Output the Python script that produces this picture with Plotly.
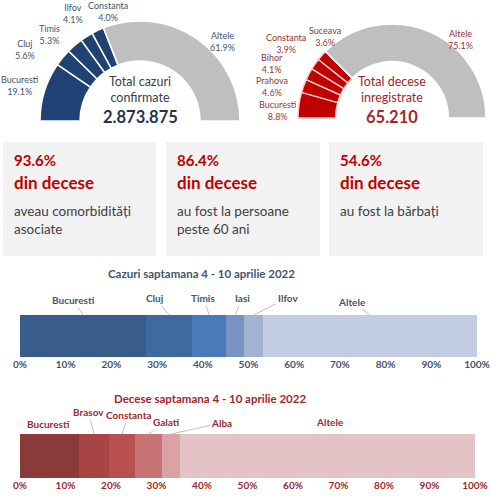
import math
import plotly.graph_objects as go

# donut data (percent of totals)
cases_regions = ["Bucuresti", "Cluj", "Timis", "Ilfov", "Constanta", "Altele"]
cases_share = [19.1, 5.6, 5.3, 4.1, 4.0, 61.9]
cases_total = "2.873.875"

deaths_regions = ["Bucuresti", "Prahova", "Bihor", "Constanta", "Suceava", "Altele"]
deaths_share = [8.8, 4.6, 4.1, 3.9, 3.6, 75.1]
deaths_total = "65.210"

# summary boxes
box_pct = ["93.6%", "86.4%", "54.6%"]
box_text = ["aveau comorbidități<br>asociate", "au fost la persoane<br>peste 60 ani", "au fost la bărbați"]

# weekly bars
week_cases_regions = ["Bucuresti", "Cluj", "Timis", "Iasi", "Ilfov", "Altele"]
week_cases_share = [27.6, 10.1, 7.4, 4.0, 4.0, 46.9]
week_deaths_regions = ["Bucuresti", "Brasov", "Constanta", "Galati", "Alba", "Altele"]
week_deaths_share = [13.0, 6.6, 5.7, 5.8, 4.1, 64.8]
pct_ticks = list(range(0, 101, 10))
pct_labels = [f"{t}%" for t in pct_ticks]

W, H = 491, 500
FONT = "Lato"
BLUE_TXT = "#44546a"
RED_TXT = "#a0282d"
RED = "#c00000"
GREY = "#bfbfbf"

cases_bar_colors = ["#385d8a", "#3f6a9f", "#4a7ab8", "#7893c2", "#a3b2d2", "#c3cde1"]
deaths_bar_colors = ["#8b3a3a", "#a84444", "#b85050", "#c97474", "#d9a2a4", "#e3c3c5"]

# label offsets (px) from the donut rim / bar top
cases_pie_off = [(-24, -6), (-38, -8), (-25, -11), (-14, -23), (10, -19), (26, 3)]
deaths_pie_off = [(-21, 5), (-32, 1), (-37, -11), (-29, -21), (3, -19), (33, 8)]
cases_off = [(-10, -15, True), (-14, -17, True), (-6, -17, True), (7, -17, True), (34, -17, True), (-18, -13, True)]
deaths_off = [(-2, -10, False), (-6, -22, True), (6, -19, True), (18, -12, True), (51, -11, True), (2, -12, False)]


def px_x(px):
    return px / W


def px_y(py):
    return 1 - py / H


fig = go.Figure()
annotations = []


def half_donut(regions, share, fill, sep, txtcol, cx, cy, r, offs):
    vals = share + [sum(share)]
    colors = [fill] * (len(share) - 1) + [GREY, "rgba(0,0,0,0)"]
    line_cols = [sep] * (len(share) - 1) + ["white", "white"]
    widths = [1.5] * len(share) + [0]
    fig.add_trace(go.Pie(
        values=vals, labels=regions + ["_"], textinfo="none",
        sort=False, direction="clockwise", rotation=270,
        hole=0.6, showlegend=False, hoverinfo="skip",
        marker=dict(colors=colors, line=dict(color=line_cols, width=widths)),
        domain=dict(x=[px_x(cx - r), px_x(cx + r)], y=[px_y(cy + r), px_y(cy - r)]),
    ))
    total = sum(share)
    cum = 0
    for name, v, (ax, ay) in zip(regions, share, offs):
        theta = math.pi * (1 - (cum + v / 2) / total)
        cum += v
        annotations.append(dict(x=px_x(cx + r * math.cos(theta)), y=px_y(cy - r * math.sin(theta)),
                                xref="paper", yref="paper",
                                text=f"{name}<br>{v:.1f}%", showarrow=True, arrowcolor="rgba(0,0,0,0)",
                                ax=ax, ay=ay, font=dict(family=FONT, size=9, color=txtcol)))


half_donut(cases_regions, cases_share, "#1f4173", "white", BLUE_TXT, 140, 121, 100, cases_pie_off)
half_donut(deaths_regions, deaths_share, RED, "#ffc7c7", "#953735", 392, 118, 94, deaths_pie_off)


def text_at(x, y, text, size, color, xanchor="center", yanchor="middle", **kw):
    annotations.append(dict(x=px_x(x), y=px_y(y), xref="paper", yref="paper", text=text,
                            xanchor=xanchor, yanchor=yanchor, showarrow=False,
                            font=dict(family=FONT, size=size, color=color), **kw))


text_at(140, 90, "Total cazuri<br>confirmate", 12.5, "#404040")
text_at(140, 117, f"<b>{cases_total}</b>", 16.5, "#1f3450")
text_at(392, 90, "Total decese<br>inregistrate", 12.5, RED_TXT)
text_at(392, 117, f"<b>{deaths_total}</b>", 16.5, RED_TXT)

shapes = []
box_x = [(3, 156), (166, 320), (329, 483)]
for (x0, x1), p, t in zip(box_x, box_pct, box_text):
    shapes.append(dict(type="rect", xref="paper", yref="paper", x0=px_x(x0), x1=px_x(x1),
                       y0=px_y(256), y1=px_y(142), fillcolor="#f2f2f2",
                       line=dict(width=0), layer="below"))
    text_at(x0 + 9, 160, f"<b>{p}</b>", 15, RED, xanchor="left")
    text_at(x0 + 9, 182, "<b>din decese</b>", 17, RED, xanchor="left")
    text_at(x0 + 9, 201, t, 13.5, "#404040", xanchor="left", yanchor="top", align="left")


def stacked(regions, share, colors, xa, ya, lab_col, offs):
    start = 0
    for name, v, c, (ax, ay, arr) in zip(regions, share, colors, offs):
        fig.add_trace(go.Bar(x=[v], y=[0], orientation="h", marker=dict(color=c, line=dict(width=0)),
                             xaxis=xa, yaxis=ya, showlegend=False, hoverinfo="skip"))
        annotations.append(dict(x=start + v / 2, y=0.5, xref=xa, yref=ya, text=f"<b>{name}</b>",
                                showarrow=True, arrowhead=0, arrowwidth=1,
                                arrowcolor="#bfbfbf" if arr else "rgba(0,0,0,0)",
                                ax=ax, ay=ay, font=dict(family=FONT, size=10, color=lab_col)))
        start += v


stacked(week_cases_regions, week_cases_share, cases_bar_colors, "x", "y", BLUE_TXT, cases_off)
stacked(week_deaths_regions, week_deaths_share, deaths_bar_colors, "x2", "y2", RED_TXT, deaths_off)

text_at(201, 273, "<b>Cazuri saptamana 4 - 10 aprilie 2022</b>", 11.5, BLUE_TXT)
text_at(210, 398, "<b>Decese saptamana 4 - 10 aprilie 2022</b>", 11.5, RED_TXT)


def pct_axis(x0, x1, col, anchor):
    return dict(domain=[px_x(x0), px_x(x1)], range=[0, 100], tickvals=pct_ticks, ticktext=pct_labels,
                showgrid=False, zeroline=False, showline=False, anchor=anchor, automargin=False,
                tickfont=dict(family=FONT, size=10, color=col, weight="bold"))


def bar_yaxis(y_top, y_bot):
    return dict(domain=[px_y(y_bot), px_y(y_top)], range=[-0.5, 0.5], visible=False,
                automargin=False, fixedrange=True)


fig.update_layout(
    width=W, height=H, margin=dict(l=0, r=0, t=0, b=0, autoexpand=False),
    paper_bgcolor="white", plot_bgcolor="white",
    barmode="stack", bargap=0,
    xaxis=pct_axis(20, 477, BLUE_TXT, "y"),
    yaxis=bar_yaxis(315, 357),
    xaxis2=pct_axis(20, 475, RED_TXT, "y2"),
    yaxis2=bar_yaxis(434, 478),
    annotations=annotations, shapes=shapes,
)

# page body has a default 8px margin; drop it so the figure sits at the window corner
fig.write_html("out.html", config={"displayModeBar": False},
               post_script="document.body.style.margin = '0';")
